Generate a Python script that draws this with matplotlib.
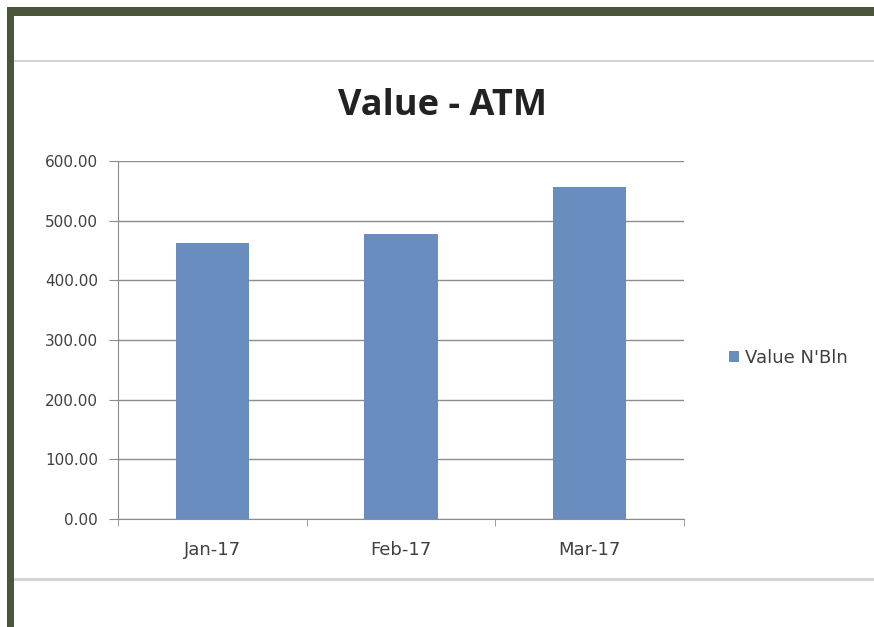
import matplotlib.pyplot as plt
from matplotlib.patches import Rectangle

months = ['Jan-17', 'Feb-17', 'Mar-17']
values = [463, 478, 557]
yticks = [0, 100, 200, 300, 400, 500, 600]
series_name = "Value N'Bln"

plt.rcParams['font.family'] = ['DejaVu Sans']

W, H = 874, 627
fig = plt.figure(figsize=(W / 100, H / 100), dpi=100)

# frame: green border on top and left, chart area with grey edges
def px_rect(x0, y0, x1, y1, **kw):
    fig.add_artist(Rectangle((x0 / W, 1 - y1 / H), (x1 - x0) / W, (y1 - y0) / H,
                             transform=fig.transFigure, **kw))

px_rect(7, 7, W, 16, color='#4a553a', lw=0)
px_rect(7, 7, 14, H, color='#4a553a', lw=0)
px_rect(14, 60, W, 62, color='#d4d4d4', lw=0)
px_rect(14, 578, W, 581, color='#d4d4d4', lw=0)

ax = fig.add_axes([118 / W, 1 - 519 / H, (684 - 118) / W, (519 - 161) / H])
x = range(len(months))
ax.bar(x, values, width=0.39, color='#6a8dbf', label=series_name, zorder=3)

ax.set_xlim(-0.5, 2.5)
ax.set_ylim(0, 600)
ax.set_yticks(yticks)
ax.set_yticklabels([f'{v:.2f}' for v in yticks])
ax.set_xticks(list(x))
ax.set_xticklabels(months)
ax.set_xticks([-0.5, 0.5, 1.5, 2.5], minor=True)
ax.tick_params(axis='x', which='major', length=0, pad=16, labelsize=13, labelcolor='#404040')
ax.tick_params(axis='x', which='minor', length=5, color='#8c8c8c', direction='out')
ax.tick_params(axis='y', length=6.5, color='#8c8c8c', labelsize=11, labelcolor='#404040', pad=8)

ax.grid(axis='y', color='#8c8c8c', lw=1, zorder=0)
for s in ['top', 'right']:
    ax.spines[s].set_visible(False)
for s in ['left', 'bottom']:
    ax.spines[s].set_color('#8c8c8c')

fig.text(442 / W, 1 - 106 / H, 'Value - ATM', ha='center', va='center',
         fontsize=26, fontweight='bold', color='#222222', family='Open Sans')

leg = ax.legend(loc='center left', bbox_to_anchor=(1.05, 0.45), frameon=False,
                fontsize=13, handlelength=0.6, handleheight=0.6, handletextpad=0.3)
for t in leg.get_texts():
    t.set_color('#404040')

fig.savefig('out.png', dpi=100)
